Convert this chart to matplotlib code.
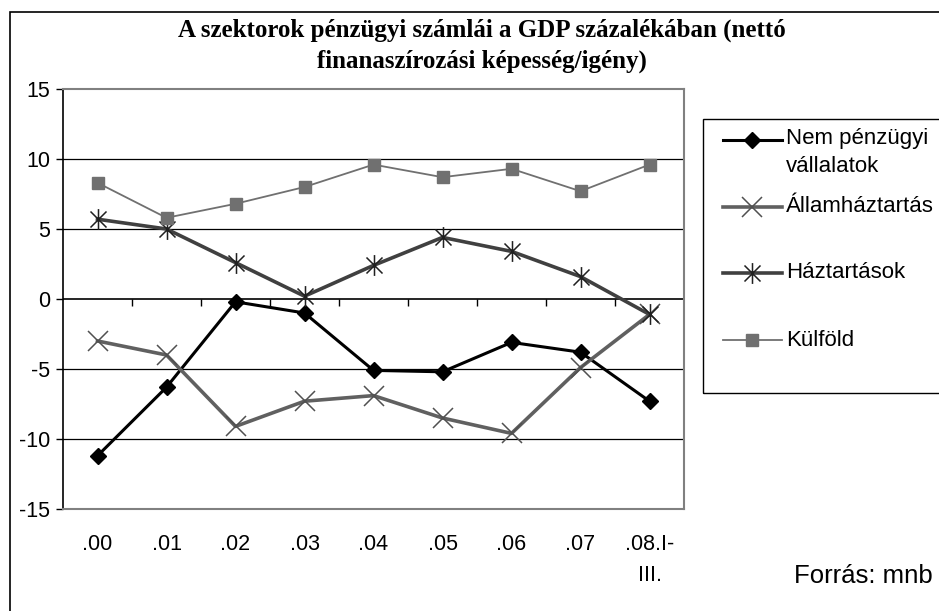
import numpy as np
import matplotlib
matplotlib.use("Agg")
from matplotlib import pyplot as plt
from matplotlib.path import Path
from matplotlib.lines import Line2D
from matplotlib.patches import Rectangle

# data (% of GDP)
periods = ['.00', '.01', '.02', '.03', '.04', '.05', '.06', '.07', '.08.I-\nIII.']
nem_penzugyi = [-11.2, -6.3, -0.2, -1.0, -5.1, -5.2, -3.1, -3.8, -7.3]
allamhaztartas = [-3.0, -4.0, -9.1, -7.3, -6.9, -8.5, -9.6, -4.9, -1.1]
haztartasok = [5.7, 5.0, 2.6, 0.2, 2.4, 4.4, 3.4, 1.6, -1.1]
kulfold = [8.3, 5.8, 6.8, 8.0, 9.6, 8.7, 9.3, 7.7, 9.6]
labels = ['Nem pénzügyi\nvállalatok', 'Államháztartás', 'Háztartások', 'Külföld']
yticks = [-15, -10, -5, 0, 5, 10, 15]

W, H = 939, 611
plt.rcParams['font.family'] = ['Liberation Sans', 'DejaVu Sans']

# excel style asterisk: x plus vertical bar
aster = Path([(-1, -1), (1, 1), (-1, 1), (1, -1), (0, -1.3), (0, 1.3)],
             [Path.MOVETO, Path.LINETO, Path.MOVETO, Path.LINETO, Path.MOVETO, Path.LINETO])

styles = [
    dict(color='black', lw=2.2, marker='D', ms=8, mfc='black', mec='black'),
    dict(color='#606060', lw=2.6, marker='x', ms=14, mew=1.1, mec='#505050'),
    dict(color='#404040', lw=2.6, marker=aster, ms=15, mew=1.1, mec='#202020'),
    dict(color='#707070', lw=1.3, marker='s', ms=8, mfc='#707070', mec='#707070'),
]

fig = plt.figure(figsize=(W / 100, H / 100), dpi=100)
ax = fig.add_axes([63 / W, 1 - 509 / H, (684 - 63) / W, (509 - 89) / H])

x = np.arange(len(periods))
for vals, st in zip([nem_penzugyi, allamhaztartas, haztartasok, kulfold], styles):
    ax.plot(x, vals, **st)

ax.set_xlim(-0.5, len(periods) - 0.5)
ax.set_ylim(-15, 15)
ax.set_yticks(yticks)
ax.set_yticklabels([str(t) for t in yticks])
for t in [-10, -5, 5, 10]:
    ax.axhline(t, color='black', lw=0.9, zorder=0)
ax.axhline(0, color='black', lw=1.2, zorder=0)

ax.set_xticks(x)
ax.set_xticklabels(periods, linespacing=1.6, va='top')
ax.tick_params(axis='x', length=0, pad=18, labelsize=15.5)
ax.tick_params(axis='y', length=5, width=1, direction='out', labelsize=15.5, pad=4)
for s in ['top', 'right', 'bottom']:
    ax.spines[s].set_color('#808080')
    ax.spines[s].set_linewidth(1.5)
ax.spines['left'].set_color('black')
ax.spines['left'].set_linewidth(1.2)

# category ticks hanging below the zero line
sec = ax.secondary_xaxis(0.5)
sec.set_alignment('bottom')
sec.set_xticks(np.arange(0.5, len(periods) - 1, 1))
sec.set_xticklabels([])
sec.tick_params(length=5, width=1, direction='out')
for s in sec.spines.values():
    s.set_visible(False)

fig.text(482 / W, 1 - 30 / H, 'A szektorok pénzügyi számlái a GDP százalékában (nettó',
         ha='center', va='center', family='Liberation Serif', weight='bold', fontsize=18)
fig.text(482 / W, 1 - 61 / H, 'finanaszírozási képesség/igény)',
         ha='center', va='center', family='Liberation Serif', weight='bold', fontsize=18)

# outer chart frame
fig.add_artist(Rectangle((10 / W, -0.1), 1.2, 1 - 12 / H + 0.1, transform=fig.transFigure,
                         fill=False, ec='black', lw=1.2))

# legend box drawn by hand to keep Excel's layout
fig.add_artist(Rectangle((703 / W, 1 - 393 / H), 0.5, (393 - 119) / H, transform=fig.transFigure,
                         fill=False, ec='black', lw=1.0))
ys = [140, 207, 273, 340]
for lab, st, yy in zip(labels, styles, ys):
    yf = 1 - yy / H
    ln = Line2D([723 / W, 782 / W], [yf, yf], transform=fig.transFigure, **st)
    ln.set_markevery([])
    fig.add_artist(ln)
    mk = dict(st)
    mk['lw'] = 0
    fig.add_artist(Line2D([752 / W], [yf], transform=fig.transFigure, **mk))
    fig.text(786 / W, yf + 0.019 if '\n' in lab else yf, lab, va='top' if '\n' in lab else 'center',
             fontsize=16, linespacing=1.4, transform=fig.transFigure)

fig.text(933 / W, 1 - 576 / H, 'Forrás: mnb', ha='right', va='center', fontsize=18.5)

fig.savefig('out.png', dpi=100)
